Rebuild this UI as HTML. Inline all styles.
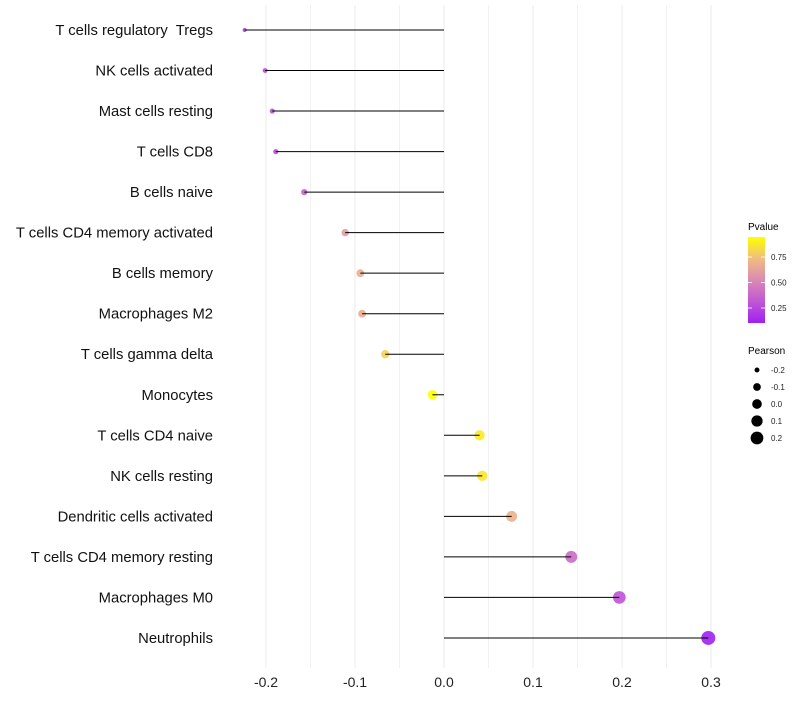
<!DOCTYPE html>
<html><head><meta charset="utf-8"><style>
body{margin:0;background:#fff;font-family:"Liberation Sans",sans-serif}
</style></head><body>
<svg width="800" height="700" xmlns="http://www.w3.org/2000/svg" font-family="Liberation Sans, sans-serif">
<defs><linearGradient id="pg" x1="0" y1="1" x2="0" y2="0">
<stop offset="0" stop-color="#a020f0"/><stop offset="0.25" stop-color="#c157d4"/><stop offset="0.5" stop-color="#da8ab3"/><stop offset="0.75" stop-color="#f0bd80"/><stop offset="1" stop-color="#ffff00"/></linearGradient></defs>
<g id="grid"></g>
<g id="marks"></g>
<g id="ylab"></g>
<g id="xlab"></g>
<g>
<text x="748" y="230" font-size="10" fill="#000">Pvalue</text>
<rect x="748" y="237" width="17" height="86" fill="url(#pg)"/>
<g id="cbt"></g>
</g>
<g>
<text x="748" y="354" font-size="10" fill="#000">Pearson</text>
<g id="szl"></g>
</g>
</svg>
<script>
const categories=["T cells regulatory  Tregs","NK cells activated","Mast cells resting","T cells CD8","B cells naive","T cells CD4 memory activated","B cells memory","Macrophages M2","T cells gamma delta","Monocytes","T cells CD4 naive","NK cells resting","Dendritic cells activated","T cells CD4 memory resting","Macrophages M0","Neutrophils"];
const pearson=[-0.224,-0.201,-0.193,-0.189,-0.157,-0.111,-0.094,-0.092,-0.066,-0.013,0.040,0.043,0.076,0.143,0.197,0.297];
const pvalue=[0.22,0.26,0.27,0.28,0.36,0.60,0.67,0.67,0.80,0.946,0.88,0.87,0.69,0.40,0.30,0.103];
const xTicks=[-0.2,-0.1,0.0,0.1,0.2,0.3];
const xTickLabels=["-0.2","-0.1","0.0","0.1","0.2","0.3"];
const cbTicks=[0.25,0.5,0.75];
const cbTickLabels=["0.25","0.50","0.75"];
const sizeBreaks=[-0.2,-0.1,0.0,0.1,0.2];
const sizeLabels=["-0.2","-0.1","0.0","0.1","0.2"];
const NS="http://www.w3.org/2000/svg";
const xs=v=>444+v*890;
const ys=i=>30+i*40.53;
const rs=v=>Math.sqrt(Math.max(2.5,4+(v+0.224)/0.521*45));
const pMin=0.103,pMax=0.946;
const stops=[[0,[160,32,240]],[0.25,[193,87,212]],[0.5,[218,138,179]],[0.75,[240,189,128]],[1,[255,255,0]]];
function col(p){let t=Math.min(1,Math.max(0,(p-pMin)/(pMax-pMin)));for(let k=0;k<stops.length-1;k++){const a=stops[k],b=stops[k+1];if(t<=b[0]){const f=(t-a[0])/(b[0]-a[0]);return"rgb("+a[1].map((c,j)=>Math.round(c+(b[1][j]-c)*f)).join(",")+")";}}return"rgb(255,255,0)";}
function mk(tag,at,parent){const e=document.createElementNS(NS,tag);for(const k in at)e.setAttribute(k,at[k]);parent.appendChild(e);return e;}
const grid=document.getElementById('grid');
for(let v=-0.15;v<=0.26;v+=0.1){const l=mk('line',{x1:xs(v),x2:xs(v),y1:5,y2:668,stroke:'#f2f2f2','stroke-width':1},grid);

}
const xl=document.getElementById('xlab');
xTicks.forEach((v,i)=>{const l=mk('line',{x1:xs(v),x2:xs(v),y1:5,y2:668,stroke:'#ebebeb','stroke-width':1},grid);


const t=mk('text',{x:xs(v),y:687,'text-anchor':'middle','font-size':14,fill:'#222'},xl);t.textContent=xTickLabels[i];

});
const m=document.getElementById('marks'),yl=document.getElementById('ylab');
categories.forEach((c,i)=>{const y=ys(i);
const d=mk('circle',{cx:xs(pearson[i]),cy:y,r:rs(pearson[i]),fill:col(pvalue[i]),'fill-opacity':0.9},m);


const s=mk('line',{x1:xs(0),x2:xs(pearson[i]),y1:y,y2:y,stroke:'#000','stroke-width':1},m);


const t=mk('text',{x:213,y:y+5,'text-anchor':'end','font-size':14.8,fill:'#111'},yl);t.textContent=c;t.setAttribute('xml:space','preserve');t.style.whiteSpace='pre';

});
const cbt=document.getElementById('cbt');
cbTicks.forEach((v,i)=>{const y=323-(v-pMin)/(pMax-pMin)*86;
const l=mk('line',{x1:748,x2:752,y1:y,y2:y,stroke:'#fff','stroke-width':0.8},cbt);
const l2=mk('line',{x1:761,x2:765,y1:y,y2:y,stroke:'#fff','stroke-width':0.8},cbt);
const t=mk('text',{x:771,y:y+3,'font-size':8,fill:'#222'},cbt);t.textContent=cbTickLabels[i];

});
const szl=document.getElementById('szl');
sizeBreaks.forEach((v,i)=>{const y=370+i*17;
const c=mk('circle',{cx:757,cy:y,r:rs(v),fill:'#000'},szl);


const t=mk('text',{x:771,y:y+3,'font-size':8,fill:'#222'},szl);t.textContent=sizeLabels[i];

});
</script>
</body></html>
